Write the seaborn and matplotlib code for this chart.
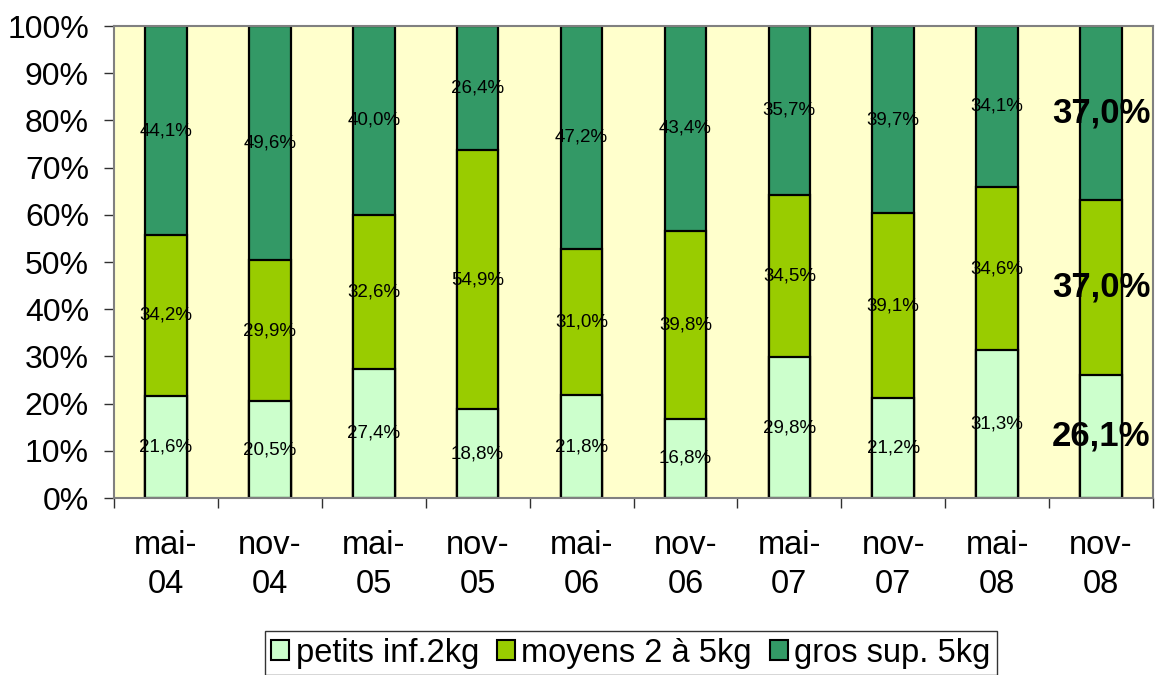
import matplotlib
matplotlib.use("Agg")
import matplotlib.pyplot as plt
from matplotlib.patches import Patch
from matplotlib.ticker import FixedLocator
import seaborn as sns
import pandas as pd
import numpy as np

categories = ["mai-\n04", "nov-\n04", "mai-\n05", "nov-\n05", "mai-\n06",
              "nov-\n06", "mai-\n07", "nov-\n07", "mai-\n08", "nov-\n08"]
petits = [21.6, 20.5, 27.4, 18.8, 21.8, 16.8, 29.8, 21.2, 31.3, 26.1]
moyens = [34.2, 29.9, 32.6, 54.9, 31.0, 39.8, 34.5, 39.1, 34.6, 37.0]
gros = [44.1, 49.6, 40.0, 26.4, 47.2, 43.4, 35.7, 39.7, 34.1, 37.0]
series_names = ["petits inf.2kg", "moyens 2 à 5kg", "gros sup. 5kg"]
colors = ["#CCFFCC", "#99CC00", "#339966"]

sns.set_theme(style="white")
plt.rcParams["font.family"] = ["Liberation Sans", "DejaVu Sans"]
plt.rcParams["text.color"] = "black"
plt.rcParams["xtick.color"] = "black"
plt.rcParams["ytick.color"] = "black"
plt.rcParams["xtick.labelcolor"] = "black"
plt.rcParams["ytick.labelcolor"] = "black"

df = pd.DataFrame({"cat": categories, "petits": petits, "moyens": moyens, "gros": gros})
df["c1"] = df["petits"]
df["c2"] = df["petits"] + df["moyens"]
df["c3"] = df["c2"] + df["gros"]

fig = plt.figure(figsize=(11.55, 6.75), dpi=100)
ax = fig.add_axes([114 / 1155, 1 - 498 / 675, (1153 - 114) / 1155, (498 - 26) / 675])
ax.set_facecolor("#FFFFCC")

for col, c in zip(["c3", "c2", "c1"], colors[::-1]):
    sns.barplot(data=df, x="cat", y=col, order=categories, color=c, width=0.4,
                edgecolor="black", linewidth=1.6, saturation=1, ax=ax, zorder=2)

ax.set_ylim(0, 100)
ax.set_xlim(-0.5, len(categories) - 0.5)
ax.set_xlabel("")
ax.set_ylabel("")
ax.set_yticks(np.arange(0, 101, 10))
ax.set_yticklabels([f"{v}%" for v in range(0, 101, 10)], fontsize=23)
ax.tick_params(axis="y", left=True, length=7, width=1, color="#303030", pad=11)
ax.set_xticks(range(len(categories)))
ax.set_xticklabels(categories, fontsize=23.5, linespacing=1.32)
ax.tick_params(axis="x", which="major", bottom=False, pad=17)
ax.xaxis.set_minor_locator(FixedLocator(np.arange(-0.5, len(categories), 1)))
ax.tick_params(axis="x", which="minor", bottom=True, length=7, width=1, color="#303030")
for s in ax.spines.values():
    s.set_color("#808080")
    s.set_linewidth(1.5)

def fmt(v):
    return f"{v:.1f}%".replace(".", ",")

n = len(categories)
for i in range(n):
    segs = [(0, petits[i]), (petits[i], petits[i] + moyens[i]),
            (petits[i] + moyens[i], petits[i] + moyens[i] + gros[i])]
    vals = [petits[i], moyens[i], gros[i]]
    for (b, t), v in zip(segs, vals):
        t = min(t, 100)
        if i == n - 1:
            ax.text(i, (b + t) / 2, fmt(v), ha="center", va="center",
                    fontsize=25, fontweight="bold", zorder=5)
        else:
            ax.text(i, (b + t) / 2, fmt(v), ha="center", va="center",
                    fontsize=13.5, zorder=5)

handles = [Patch(facecolor=c, edgecolor="black", linewidth=1.5) for c in colors]
leg = fig.legend(handles, series_names, loc="upper center",
                 bbox_to_anchor=(631 / 1155, 1 - 631 / 675), ncol=3, fontsize=23.5,
                 frameon=True, fancybox=False, edgecolor="black",
                 handlelength=0.55, handleheight=0.55, handletextpad=0.2,
                 columnspacing=0.55, borderpad=0.2, borderaxespad=0)
leg.get_frame().set_linewidth(1.0)

fig.savefig("out.png", dpi=100)
